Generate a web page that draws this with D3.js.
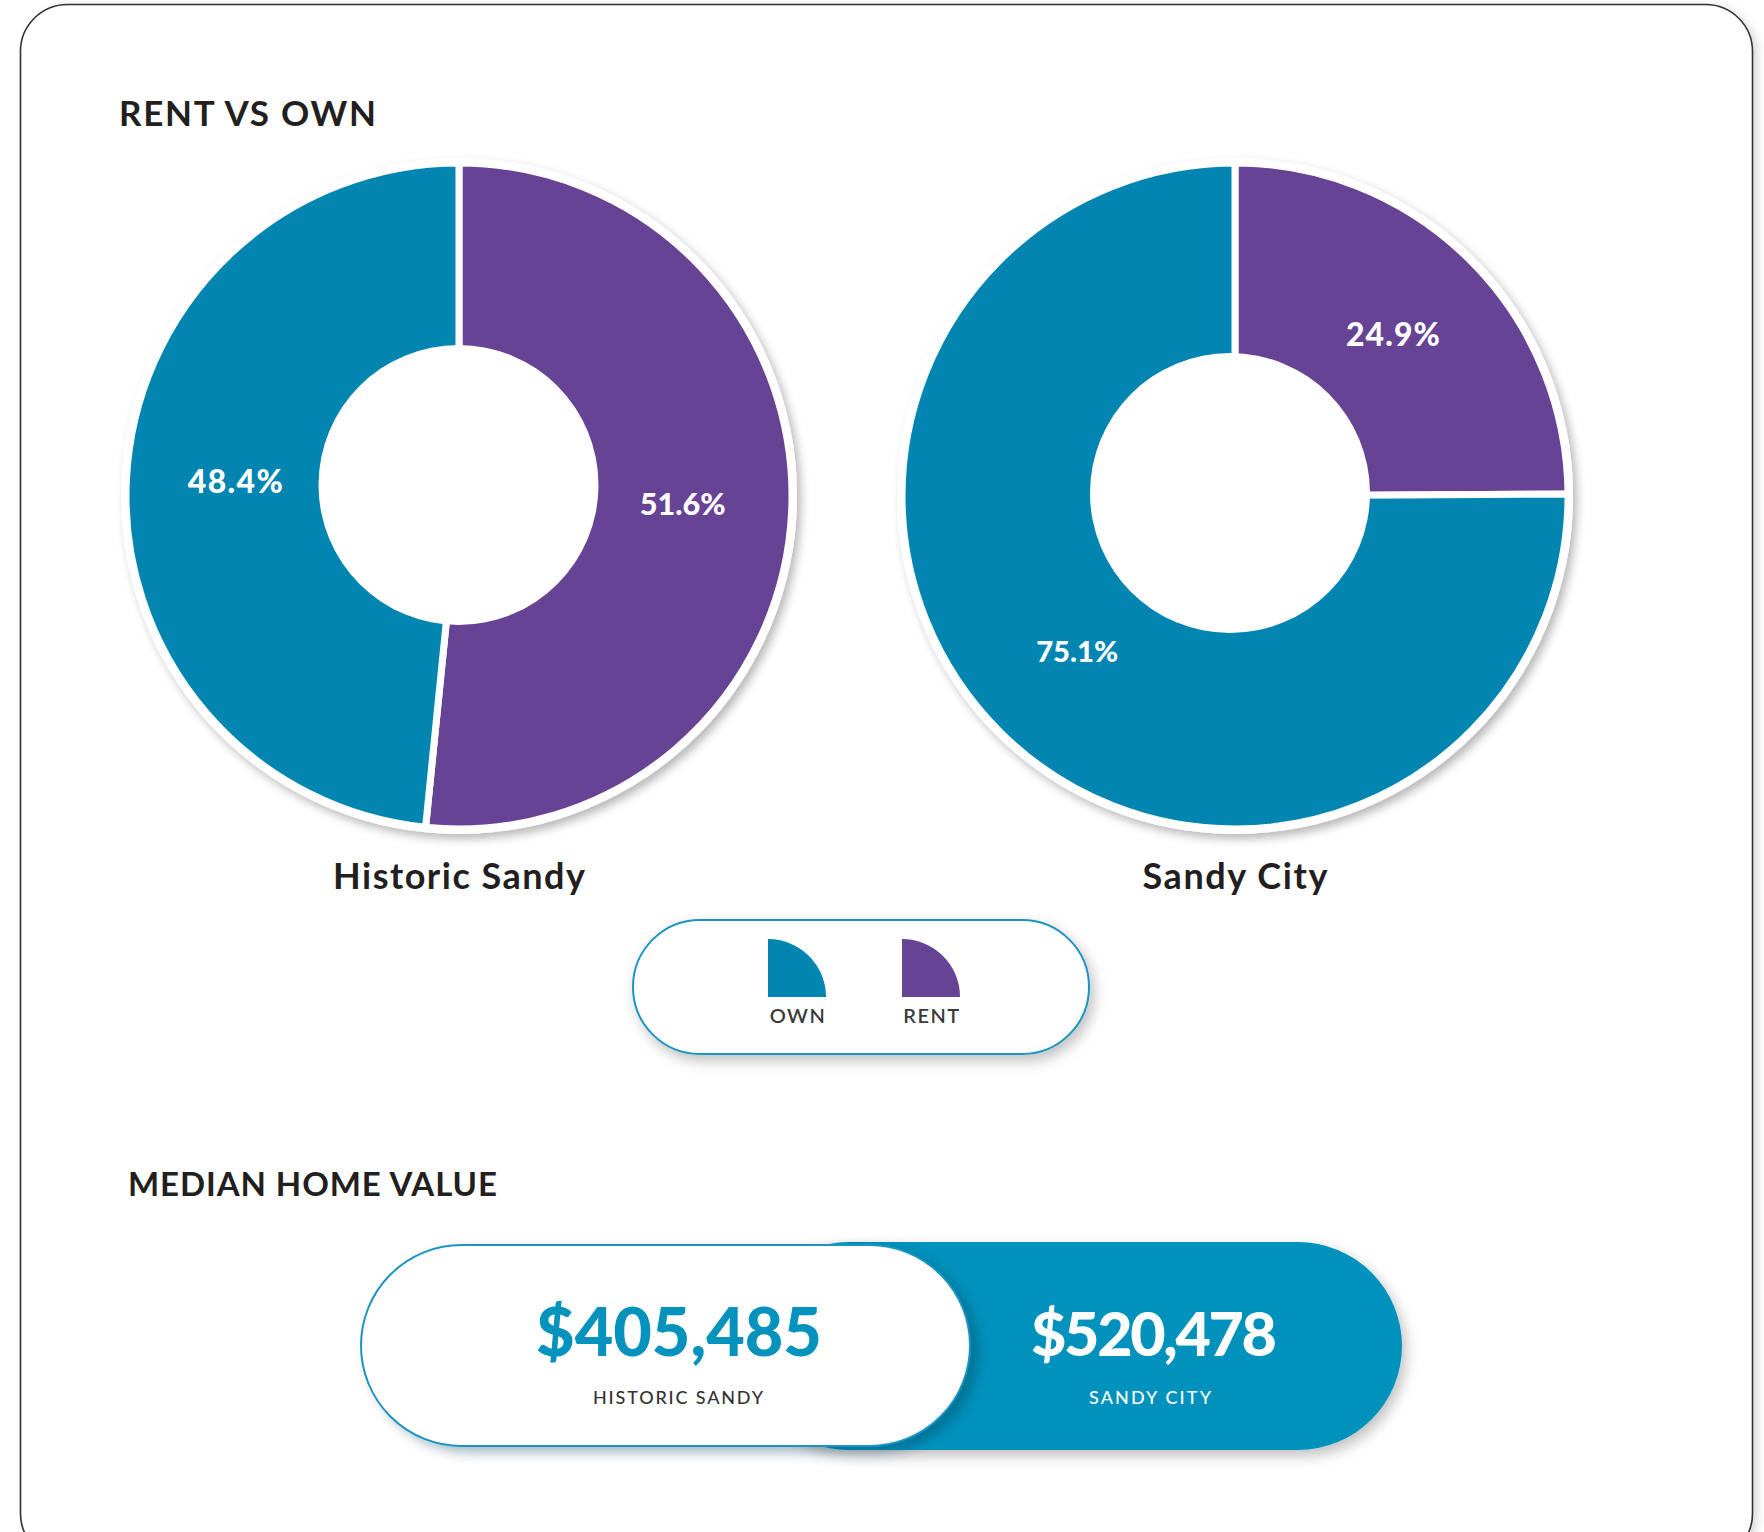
<!DOCTYPE html>
<html>
<head>
<meta charset="utf-8">
<script src="https://cdn.jsdelivr.net/npm/d3@7"></script>
<style>
  html, body { margin: 0; padding: 0; background: #fff; }
  svg { display: block; font-family: Lato, "Open Sans", sans-serif; }
</style>
</head>
<body>
<svg id="viz" width="1764" height="1532"></svg>
<script>
// ==== Data ====
const places = ["Historic Sandy", "Sandy City"];
const tenure = ["Rent", "Own"];            // drawn clockwise from 12 o'clock in this order
const rentPct = [51.6, 24.9];
const ownPct = [48.4, 75.1];
const legendKeys = ["Own", "Rent"];
const legendLabels = ["OWN", "RENT"];
const homeValues = [405485, 520478];
const valueLabels = ["HISTORIC SANDY", "SANDY CITY"];

// ==== Setup ====
const svg = d3.select("#viz");
const defs = svg.append("defs");
const INK = "#231f20";
const BLUE = "#0592bd";

const color = d3.scaleOrdinal().domain(tenure).range(["#664394", "#0286b1"]);

function shadow(id, dx, dy, sd, op, col = "#000") {
  defs.append("filter").attr("id", id)
    .attr("x", "-20%").attr("y", "-20%").attr("width", "140%").attr("height", "140%")
    .append("feDropShadow")
    .attr("dx", dx).attr("dy", dy).attr("stdDeviation", sd)
    .attr("flood-color", col).attr("flood-opacity", op);
}
shadow("frameSh", 4, 2, 4, 0.15);
shadow("donutSh", 4, 5, 5, 0.28);
shadow("pillSh", 4, 6, 7, 0.25);
shadow("whiteSh", 8, 6, 6, 0.35, "#003a55");

// optionally grow the font (up to `grow`), then stretch spacing so the text spans width w
function fit(sel, w, grow = 1) {
  sel.each(function () {
    const fs = +this.getAttribute("font-size");
    let len = this.getComputedTextLength();
    const k = Math.min(grow, Math.max(1, w / len));
    this.setAttribute("font-size", fs * k);
    len = this.getComputedTextLength();
    if (Math.abs(len - w) > 2) this.setAttribute("textLength", w), this.setAttribute("lengthAdjust", "spacing");
  });
  return sel;
}

// ==== Card frame ====
svg.append("rect")
  .attr("x", 20.5).attr("y", 4.5).attr("width", 1732).attr("height", 1556)
  .attr("rx", 47).attr("fill", "#fff")
  .attr("stroke", "#333").attr("stroke-width", 1.6)
  .attr("filter", "url(#frameSh)");

// ==== Section titles ====
fit(svg.append("text").attr("x", 119).attr("y", 126)
  .attr("font-size", 35).attr("font-weight", 700).attr("fill", INK)
  .text("RENT VS OWN"), 257);

fit(svg.append("text").attr("x", 128).attr("y", 1196)
  .attr("font-size", 33).attr("font-weight", 700).attr("fill", INK)
  .text("MEDIAN HOME VALUE"), 369);

// ==== Donuts ====
const cx = d3.scalePoint().domain(places).range([459, 1235]);
const cy = 496, R = 333, HOLE = 140, LABEL_R = 224;
const holeShift = [[-0.5, -11], [-5, -3]];   // the hole sits slightly off-centre in the original
const nameWidth = [252, 185];
const pctWidth = { "Historic Sandy": { Rent: 86, Own: 95 }, "Sandy City": { Rent: 94, Own: 82 } };

const pie = d3.pie().sort(null).value(d => d.value);
const arc = d3.arc().innerRadius(0).outerRadius(R);
const labelArc = d3.arc().innerRadius(LABEL_R).outerRadius(LABEL_R);

places.forEach((place, i) => {
  const data = [
    { key: "Rent", value: rentPct[i] },
    { key: "Own", value: ownPct[i] }
  ];
  const g = svg.append("g").attr("transform", `translate(${cx(place)},${cy})`);

  g.append("circle").attr("r", R + 5).attr("fill", "#fff").attr("filter", "url(#donutSh)");

  g.selectAll("path.slice").data(pie(data)).join("path")
    .attr("class", "slice")
    .attr("d", arc)
    .attr("fill", d => color(d.data.key))
    .attr("stroke", "#fff").attr("stroke-width", 7).attr("stroke-linejoin", "miter");

  g.append("circle")
    .attr("cx", holeShift[i][0]).attr("cy", holeShift[i][1])
    .attr("r", HOLE).attr("fill", "#fff");

  g.selectAll("text.pct").data(pie(data)).join("text")
    .attr("class", "pct")
    .attr("x", d => labelArc.centroid(d)[0])
    .attr("y", d => labelArc.centroid(d)[1] - 3)
    .attr("dy", "0.36em")
    .attr("text-anchor", "middle")
    .attr("font-size", 29).attr("font-weight", 900).attr("fill", "#fff")
    .text(d => d.data.value.toFixed(1) + "%")
    .each(function (d) { fit(d3.select(this), pctWidth[place][d.data.key], 1.1); });

  fit(svg.append("text")
    .attr("x", cx(place)).attr("y", 889)
    .attr("text-anchor", "middle")
    .attr("font-size", 36).attr("font-weight", 700).attr("fill", INK)
    .text(place), nameWidth[i]);
});

// ==== Legend ====
const legend = svg.append("g");
legend.append("rect")
  .attr("x", 633).attr("y", 920).attr("width", 456).attr("height", 134).attr("rx", 67)
  .attr("fill", "#fff").attr("stroke", "#1b94c1").attr("stroke-width", 2)
  .attr("filter", "url(#pillSh)");

const lx = d3.scalePoint().domain(legendKeys).range([798, 932]);
const quarter = d3.arc().innerRadius(0).outerRadius(58).startAngle(0).endAngle(Math.PI / 2);
const items = legend.selectAll("g.item").data(legendKeys).join("g")
  .attr("class", "item")
  .attr("transform", d => `translate(${lx(d)},0)`);
items.append("path")
  .attr("transform", "translate(-30,997)")
  .attr("d", quarter())
  .attr("fill", d => color(d));
items.append("text")
  .attr("y", 1023).attr("text-anchor", "middle")
  .attr("font-size", 20).attr("font-weight", 600).attr("fill", "#3b3b3b")
  .attr("letter-spacing", 1.5)
  .text((d, i) => legendLabels[i]);

// ==== Median home value pills ====
const fmt = d3.format("$,");
const valueX = [679, 1154];

svg.append("rect")
  .attr("x", 745).attr("y", 1242).attr("width", 657).attr("height", 208).attr("rx", 104)
  .attr("fill", BLUE).attr("filter", "url(#pillSh)");
svg.append("rect")
  .attr("x", 361).attr("y", 1245).attr("width", 609).attr("height", 201).attr("rx", 100.5)
  .attr("fill", "#fff").attr("stroke", "#1b94c1").attr("stroke-width", 2)
  .attr("filter", "url(#whiteSh)");

const valW = [286, 246];
const subW = [170, 122];
homeValues.forEach((v, i) => {
  fit(svg.append("text")
    .attr("x", valueX[i]).attr("y", 1356)
    .attr("text-anchor", "middle")
    .attr("font-size", i === 0 ? 65 : 61).attr("font-weight", 900)
    .attr("fill", i === 0 ? BLUE : "#fff")
    .text(fmt(v)), valW[i], 1.04);
  fit(svg.append("text")
    .attr("x", valueX[i] - (i === 0 ? 1 : 4)).attr("y", 1404)
    .attr("text-anchor", "middle")
    .attr("font-size", 18).attr("font-weight", 500)
    .attr("fill", i === 0 ? "#333" : "#fff")
    .text(valueLabels[i]), subW[i]);
});
</script>
</body>
</html>
